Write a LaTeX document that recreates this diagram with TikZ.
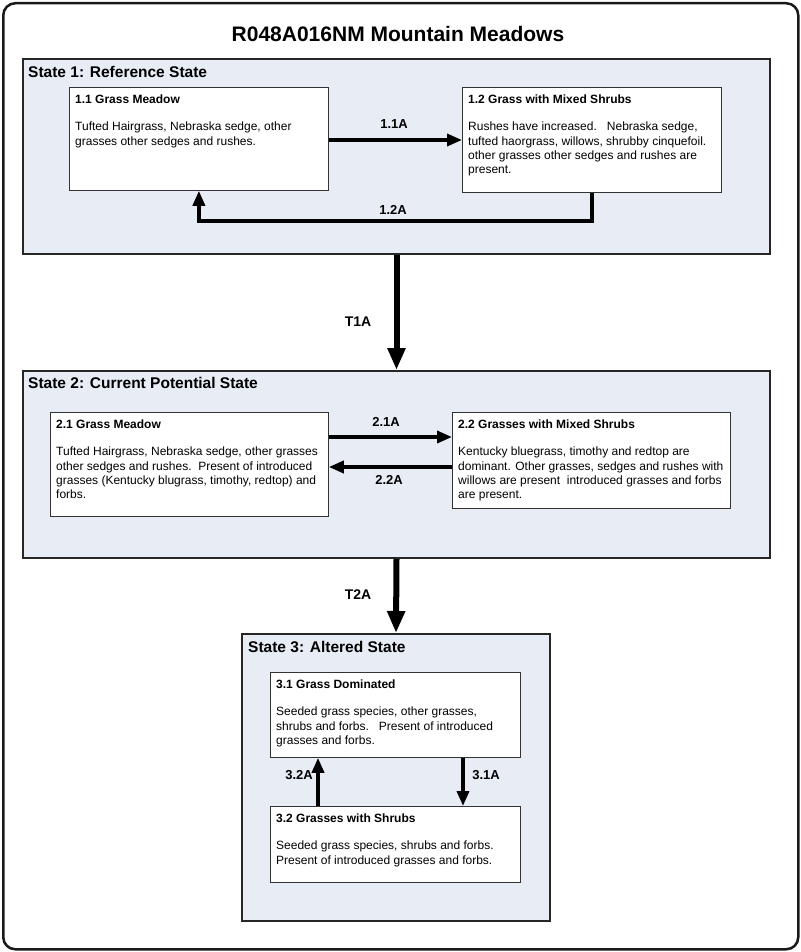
\documentclass[tikz,border=0pt]{standalone}
\usepackage{fontspec}
\setmainfont{Liberation Sans}
\usetikzlibrary{arrows.meta,calc}
\definecolor{stfill}{RGB}{232,236,244}
\begin{document}
\begin{tikzpicture}[x=1pt,y=-1pt,
  frame/.style={draw=black!90,line width=2.5pt,rounded corners=12pt,anchor=north west,inner sep=0},
  statebox/.style={draw=black!85,line width=2pt,fill=stfill,anchor=north west,inner sep=0},
  compbox/.style={draw=black!80,line width=0.8pt,fill=white,anchor=north west,inner sep=0},
  statelbl/.style={anchor=west,font=\bfseries\fontsize{15.5}{18}\selectfont,inner sep=0},
  head/.style={anchor=west,font=\bfseries\fontsize{12}{14}\selectfont,inner sep=0},
  body/.style={anchor=north west,align=left,font=\fontsize{12}{14.3}\selectfont,inner sep=0},
  arr/.style={line width=3.5pt,line join=miter,-{Triangle[length=15pt,width=12pt]}},
  tarr/.style={line width=6pt,-{Triangle[length=22pt,width=17pt]}},
  albl/.style={font=\bfseries\fontsize{13}{15}\selectfont,inner sep=0},
  tlbl/.style={font=\bfseries\fontsize{14}{16}\selectfont,inner sep=0},
]
\useasboundingbox (0,0) rectangle (800,952);
\node[frame,minimum width=795pt,minimum height=946pt] (outer) at (2,2) {};
\node[font=\bfseries\fontsize{21}{24}\selectfont,inner sep=0] (title) at (398,34) {R048A016NM Mountain Meadows};

% State 1
\node[statebox,minimum width=747pt,minimum height=195pt] (s1) at (22,58) {};
\node[statelbl] (s1l) at (28,72) {State 1: Reference State};
\node[compbox,minimum width=259pt,minimum height=103pt] (b11) at (69,87) {};
\node[head] (h11) at (75,99) {1.1 Grass Meadow};
\node[body] (t11) at (75,122) {Tufted Hairgrass, Nebraska sedge, other\\grasses other sedges and rushes.};
\node[compbox,minimum width=259pt,minimum height=105pt] (b12) at (462,87) {};
\node[head] (h12) at (468,99) {1.2 Grass with Mixed Shrubs};
\node[body] (t12) at (468,122) {Rushes have increased.\ \ \ Nebraska sedge,\\tufted haorgrass, willows, shrubby cinquefoil.\\other grasses other sedges and rushes are\\present.};

% State 2
\node[statebox,minimum width=747pt,minimum height=187pt] (s2) at (22,370) {};
\node[statelbl] (s2l) at (28,383) {State 2: Current Potential State};
\node[compbox,minimum width=278pt,minimum height=104pt] (b21) at (50,412) {};
\node[head] (h21) at (56,424) {2.1 Grass Meadow};
\node[body] (t21) at (56,447) {Tufted Hairgrass, Nebraska sedge, other grasses\\other sedges and rushes.\ \ Present of introduced\\grasses (Kentucky blugrass, timothy, redtop) and\\forbs.};
\node[compbox,minimum width=278pt,minimum height=96pt] (b22) at (452,412) {};
\node[head] (h22) at (458,424) {2.2 Grasses with Mixed Shrubs};
\node[body] (t22) at (458,447) {Kentucky bluegrass, timothy and redtop are\\dominant. Other grasses, sedges and rushes with\\willows are present\ \ introduced grasses and forbs\\are present.};

% State 3
\node[statebox,minimum width=308pt,minimum height=287pt] (s3) at (241,633) {};
\node[statelbl] (s3l) at (248,647) {State 3: Altered State};
\node[compbox,minimum width=250pt,minimum height=85pt] (b31) at (270,672) {};
\node[head] (h31) at (276,684) {3.1 Grass Dominated};
\node[body] (t31) at (276,707) {Seeded grass species, other grasses,\\shrubs and forbs.\ \ \ Present of introduced\\grasses and forbs.};
\node[compbox,minimum width=250pt,minimum height=76pt] (b32) at (270,806) {};
\node[head] (h32) at (276,818) {3.2 Grasses with Shrubs};
\node[body] (t32) at (276,841) {Seeded grass species, shrubs and forbs.\\Present of introduced grasses and forbs.};

% connectors
\coordinate (y11) at (0,140);
\coordinate (y21) at (0,437);
\coordinate (y22) at (0,467);
\coordinate (x31) at (463,0);
\coordinate (x32) at (318,0);

\draw[arr] (b11.east |- y11) -- (b12.west |- y11);
\draw[arr] (b12.south) -- ++(0,28) -| (b11.south);
\draw[tarr] (s1.south) -- (s2.north);
\draw[arr] (b21.east |- y21) -- (b22.west |- y21);
\draw[arr] (b22.west |- y22) -- (b21.east |- y22);
\draw[tarr] (s2.south) -- (s3.north);
\draw[arr] (x31 |- b31.south) -- (x31 |- b32.north);
\draw[arr] (x32 |- b32.north) -- (x32 |- b31.south);

% labels
\node[albl] (l11) at (394,124) {1.1A};
\node[albl] (l12) at (393,210) {1.2A};
\node[tlbl] (lt1) at (358,322) {T1A};
\node[albl] (l21) at (386,422) {2.1A};
\node[albl] (l22) at (389,480) {2.2A};
\node[tlbl] (lt2) at (358,595) {T2A};
\node[albl] (l31) at (486,775) {3.1A};
\node[albl] (l32) at (299,775) {3.2A};
\end{tikzpicture}
\end{document}
